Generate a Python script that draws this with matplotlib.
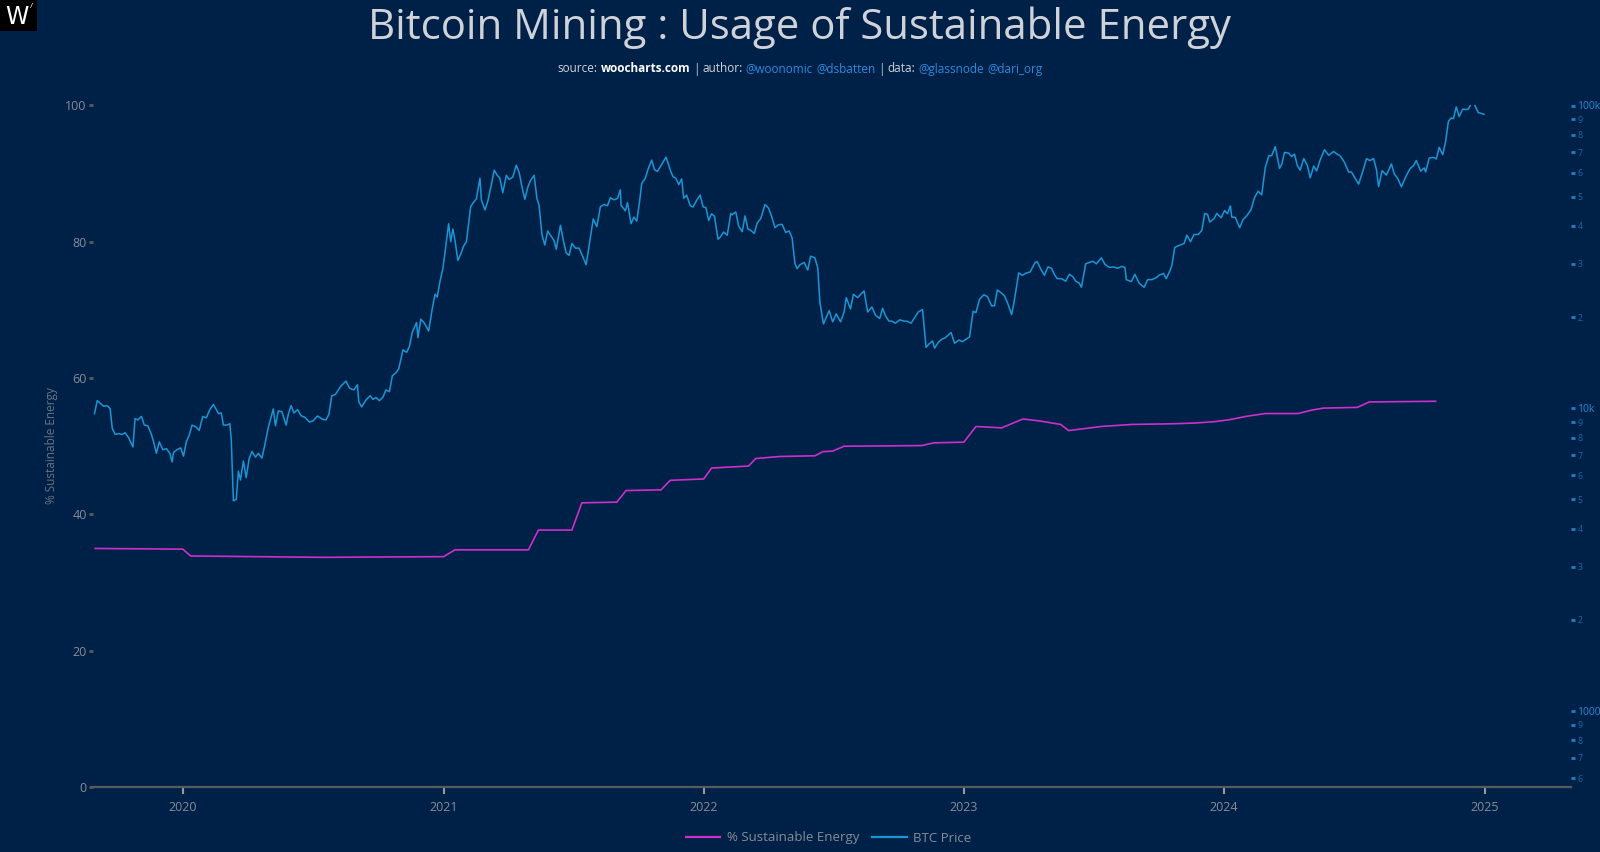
import matplotlib
matplotlib.use('Agg')
import matplotlib.pyplot as plt
import pandas as pd
from matplotlib.lines import Line2D
from matplotlib.patches import Rectangle

plt.rcParams['font.family'] = ['Open Sans', 'DejaVu Sans']

# ---------------- data ----------------
btc_2019 = [
    ('2019-08-30', 9600), ('2019-09-03', 10600), ('2019-09-07', 10400), ('2019-09-12', 10150),
    ('2019-09-17', 10200), ('2019-09-21', 9980), ('2019-09-24', 8600), ('2019-09-28', 8200),
    ('2019-10-03', 8250), ('2019-10-08', 8200), ('2019-10-12', 8300), ('2019-10-17', 8000),
    ('2019-10-23', 7450), ('2019-10-26', 9250), ('2019-10-30', 9150), ('2019-11-04', 9400),
    ('2019-11-08', 8800), ('2019-11-13', 8750), ('2019-11-18', 8200), ('2019-11-22', 7600),
    ('2019-11-25', 7100), ('2019-11-29', 7750), ('2019-12-04', 7300), ('2019-12-09', 7350),
    ('2019-12-14', 7100), ('2019-12-17', 6650), ('2019-12-19', 7150), ('2019-12-24', 7300),
    ('2019-12-29', 7400),
]
btc_2020 = [
    ('2020-01-02', 6950), ('2020-01-06', 7750), ('2020-01-10', 8150), ('2020-01-14', 8800),
    ('2020-01-19', 8700), ('2020-01-24', 8450), ('2020-01-29', 9400), ('2020-02-03', 9300),
    ('2020-02-08', 9900), ('2020-02-13', 10300), ('2020-02-17', 9900), ('2020-02-20', 9600),
    ('2020-02-24', 9650), ('2020-02-27', 8800), ('2020-03-03', 8800), ('2020-03-07', 8900),
    ('2020-03-09', 7900), ('2020-03-12', 4950), ('2020-03-16', 5000), ('2020-03-19', 6200),
    ('2020-03-22', 5800), ('2020-03-26', 6700), ('2020-03-30', 5900), ('2020-04-03', 6800),
    ('2020-04-07', 7200), ('2020-04-12', 6900), ('2020-04-16', 7100), ('2020-04-21', 6850),
    ('2020-04-25', 7550), ('2020-04-30', 8650), ('2020-05-07', 9950), ('2020-05-10', 8750),
    ('2020-05-14', 9800), ('2020-05-19', 9750), ('2020-05-25', 8800), ('2020-05-28', 9550),
    ('2020-06-01', 10200), ('2020-06-05', 9650), ('2020-06-10', 9900), ('2020-06-15', 9450),
    ('2020-06-20', 9350), ('2020-06-27', 9000), ('2020-07-02', 9100), ('2020-07-08', 9430),
    ('2020-07-15', 9200), ('2020-07-20', 9160), ('2020-07-24', 9550), ('2020-07-28', 11000),
    ('2020-08-02', 11100), ('2020-08-10', 11850), ('2020-08-17', 12300), ('2020-08-22', 11650),
    ('2020-08-28', 11500), ('2020-09-02', 11950), ('2020-09-04', 10500), ('2020-09-08', 10100),
    ('2020-09-14', 10650), ('2020-09-20', 11000), ('2020-09-24', 10700), ('2020-09-28', 10850),
    ('2020-10-03', 10600), ('2020-10-08', 10900), ('2020-10-12', 11500), ('2020-10-17', 11350),
    ('2020-10-21', 12800), ('2020-10-26', 13100), ('2020-10-30', 13500), ('2020-11-05', 15600),
    ('2020-11-10', 15300), ('2020-11-14', 16000), ('2020-11-18', 17800), ('2020-11-24', 19200),
    ('2020-11-26', 17100), ('2020-11-30', 19700), ('2020-12-05', 19100), ('2020-12-11', 18000),
    ('2020-12-16', 21300), ('2020-12-20', 23800), ('2020-12-23', 23300), ('2020-12-27', 26300),
    ('2020-12-31', 29000),
]
btc_2021 = [
    ('2021-01-03', 32800), ('2021-01-08', 40700), ('2021-01-11', 35500), ('2021-01-14', 39100),
    ('2021-01-17', 35800), ('2021-01-21', 30800), ('2021-01-25', 32300), ('2021-01-29', 34300),
    ('2021-02-02', 35500), ('2021-02-08', 46400), ('2021-02-12', 47900), ('2021-02-16', 49200),
    ('2021-02-21', 57500), ('2021-02-23', 48800), ('2021-02-28', 45200), ('2021-03-04', 48300),
    ('2021-03-09', 54800), ('2021-03-13', 61200), ('2021-03-17', 58900), ('2021-03-21', 57500),
    ('2021-03-25', 51500), ('2021-03-30', 58800), ('2021-04-03', 57000), ('2021-04-08', 58000),
    ('2021-04-13', 63500), ('2021-04-17', 60100), ('2021-04-21', 53800), ('2021-04-25', 49000),
    ('2021-04-29', 53600), ('2021-05-03', 56600), ('2021-05-08', 58800), ('2021-05-12', 49300),
    ('2021-05-15', 46700), ('2021-05-19', 37400), ('2021-05-23', 34600), ('2021-05-27', 38500),
    ('2021-05-31', 37300), ('2021-06-05', 35800), ('2021-06-08', 33500), ('2021-06-14', 40200),
    ('2021-06-18', 35800), ('2021-06-22', 32600), ('2021-06-26', 32000), ('2021-06-30', 35000),
    ('2021-07-05', 33800), ('2021-07-10', 33800), ('2021-07-15', 31800), ('2021-07-20', 29800),
    ('2021-07-25', 35400), ('2021-07-30', 42200), ('2021-08-04', 39800), ('2021-08-09', 46300),
    ('2021-08-14', 47100), ('2021-08-19', 46700), ('2021-08-23', 49600), ('2021-08-28', 48800),
    ('2021-09-02', 49300), ('2021-09-06', 52700), ('2021-09-07', 46800), ('2021-09-13', 44900),
    ('2021-09-16', 47800), ('2021-09-21', 40700), ('2021-09-25', 42800), ('2021-09-29', 41500),
    ('2021-10-03', 48200), ('2021-10-06', 55300), ('2021-10-11', 57500), ('2021-10-15', 61700),
    ('2021-10-20', 66000), ('2021-10-24', 61300), ('2021-10-28', 60600), ('2021-11-02', 63300),
    ('2021-11-09', 67500), ('2021-11-12', 64500), ('2021-11-16', 60300), ('2021-11-19', 58200),
    ('2021-11-23', 57500), ('2021-11-27', 54800), ('2021-12-01', 57200), ('2021-12-04', 49400),
    ('2021-12-08', 50600), ('2021-12-13', 46700), ('2021-12-17', 46200), ('2021-12-22', 48600),
    ('2021-12-27', 50600), ('2021-12-31', 46300),
]
btc_2022 = [
    ('2022-01-04', 46000), ('2022-01-08', 41700), ('2022-01-12', 43900), ('2022-01-16', 43100),
    ('2022-01-21', 36200), ('2022-01-24', 36700), ('2022-01-29', 38200), ('2022-02-03', 37300),
    ('2022-02-08', 44000), ('2022-02-10', 43600), ('2022-02-15', 44500), ('2022-02-19', 40000),
    ('2022-02-24', 38300), ('2022-02-28', 43200), ('2022-03-04', 39100), ('2022-03-08', 38700),
    ('2022-03-13', 37800), ('2022-03-17', 40900), ('2022-03-22', 42300), ('2022-03-28', 47100),
    ('2022-04-02', 45800), ('2022-04-06', 43200), ('2022-04-11', 39500), ('2022-04-16', 40400),
    ('2022-04-21', 40500), ('2022-04-26', 38100), ('2022-05-01', 38500), ('2022-05-05', 36500),
    ('2022-05-09', 30100), ('2022-05-12', 28900), ('2022-05-16', 29800), ('2022-05-22', 30300),
    ('2022-05-27', 28600), ('2022-05-31', 31800), ('2022-06-06', 31400), ('2022-06-10', 29100),
    ('2022-06-13', 22400), ('2022-06-18', 19000), ('2022-06-22', 20000), ('2022-06-26', 21000),
    ('2022-07-01', 19300), ('2022-07-06', 20500), ('2022-07-12', 19300), ('2022-07-17', 20800),
    ('2022-07-20', 23200), ('2022-07-26', 21300), ('2022-07-30', 23800), ('2022-08-05', 23200),
    ('2022-08-10', 23900), ('2022-08-14', 24400), ('2022-08-19', 20800), ('2022-08-25', 21600),
    ('2022-08-30', 20300), ('2022-09-05', 19800), ('2022-09-09', 21400), ('2022-09-13', 20200),
    ('2022-09-18', 19400), ('2022-09-22', 19400), ('2022-09-27', 19100), ('2022-10-03', 19600),
    ('2022-10-09', 19400), ('2022-10-13', 19400), ('2022-10-19', 19100), ('2022-10-25', 20100),
    ('2022-10-29', 20800), ('2022-11-04', 21200), ('2022-11-09', 15900), ('2022-11-13', 16300),
    ('2022-11-18', 16700), ('2022-11-21', 15800), ('2022-11-26', 16500), ('2022-12-01', 16900),
    ('2022-12-06', 17100), ('2022-12-14', 17800), ('2022-12-19', 16400), ('2022-12-25', 16800),
    ('2022-12-30', 16600),
]
btc_2023 = [
    ('2023-01-04', 16900), ('2023-01-09', 17200), ('2023-01-14', 20900), ('2023-01-18', 20700),
    ('2023-01-23', 22900), ('2023-01-29', 23700), ('2023-02-03', 23400), ('2023-02-09', 21800),
    ('2023-02-13', 21800), ('2023-02-17', 24600), ('2023-02-22', 24100), ('2023-02-27', 23500),
    ('2023-03-03', 22400), ('2023-03-09', 20400), ('2023-03-12', 22100), ('2023-03-15', 24400),
    ('2023-03-19', 28000), ('2023-03-24', 27500), ('2023-03-30', 28000), ('2023-04-04', 28200),
    ('2023-04-11', 30300), ('2023-04-14', 30500), ('2023-04-19', 28800), ('2023-04-24', 27500),
    ('2023-04-29', 29300), ('2023-05-04', 29000), ('2023-05-08', 27700), ('2023-05-12', 26800),
    ('2023-05-18', 26800), ('2023-05-24', 26300), ('2023-05-29', 27700), ('2023-06-03', 27200),
    ('2023-06-07', 26300), ('2023-06-12', 25900), ('2023-06-15', 25100), ('2023-06-21', 30000),
    ('2023-06-26', 30300), ('2023-07-01', 30600), ('2023-07-06', 30000), ('2023-07-13', 31400),
    ('2023-07-18', 29900), ('2023-07-24', 29200), ('2023-07-30', 29300), ('2023-08-05', 29000),
    ('2023-08-10', 29400), ('2023-08-15', 29200), ('2023-08-17', 26600), ('2023-08-24', 26200),
    ('2023-08-29', 27700), ('2023-09-04', 25900), ('2023-09-11', 25100), ('2023-09-16', 26600),
    ('2023-09-22', 26600), ('2023-09-28', 27000), ('2023-10-02', 27500), ('2023-10-08', 27900),
    ('2023-10-12', 26800), ('2023-10-17', 28400), ('2023-10-20', 29700), ('2023-10-24', 34000),
    ('2023-10-30', 34500), ('2023-11-06', 35000), ('2023-11-10', 37300), ('2023-11-15', 35500),
    ('2023-11-20', 37500), ('2023-11-26', 37500), ('2023-12-01', 38700), ('2023-12-05', 44000),
    ('2023-12-09', 43700), ('2023-12-12', 41200), ('2023-12-18', 42300), ('2023-12-22', 44000),
    ('2023-12-28', 42600),
]
btc_2024 = [
    ('2024-01-02', 45000), ('2024-01-06', 43900), ('2024-01-10', 46600), ('2024-01-12', 42800),
    ('2024-01-17', 42700), ('2024-01-23', 39500), ('2024-01-28', 42100), ('2024-02-02', 43200),
    ('2024-02-08', 45300), ('2024-02-13', 49700), ('2024-02-18', 52100), ('2024-02-23', 50700),
    ('2024-02-28', 62400), ('2024-03-04', 68300), ('2024-03-08', 68300), ('2024-03-13', 73100),
    ('2024-03-19', 62000), ('2024-03-22', 63800), ('2024-03-26', 70000), ('2024-04-01', 69600),
    ('2024-04-05', 67800), ('2024-04-09', 69100), ('2024-04-13', 63300), ('2024-04-17', 61200),
    ('2024-04-22', 66800), ('2024-04-27', 63400), ('2024-05-01', 57700), ('2024-05-06', 63100),
    ('2024-05-10', 60800), ('2024-05-15', 66100), ('2024-05-21', 71400), ('2024-05-27', 68500),
    ('2024-06-03', 70500), ('2024-06-07', 69300), ('2024-06-12', 68200), ('2024-06-18', 65000),
    ('2024-06-24', 60300), ('2024-06-28', 60300), ('2024-07-04', 57000), ('2024-07-08', 55000),
    ('2024-07-14', 60800), ('2024-07-19', 66700), ('2024-07-24', 65800), ('2024-07-29', 66800),
    ('2024-08-02', 61400), ('2024-08-05', 54000), ('2024-08-10', 60900), ('2024-08-16', 58900),
    ('2024-08-23', 64100), ('2024-08-27', 59500), ('2024-09-01', 57300), ('2024-09-06', 53900),
    ('2024-09-12', 58100), ('2024-09-18', 61800), ('2024-09-23', 63300), ('2024-09-27', 65800),
    ('2024-10-03', 60700), ('2024-10-08', 62200), ('2024-10-10', 60300), ('2024-10-15', 67000),
    ('2024-10-21', 67400), ('2024-10-25', 66600), ('2024-10-29', 72700), ('2024-11-03', 68800),
    ('2024-11-07', 75900), ('2024-11-11', 88700), ('2024-11-15', 91000), ('2024-11-18', 90500),
    ('2024-11-22', 98900), ('2024-11-26', 91900), ('2024-12-01', 97200), ('2024-12-05', 97000),
    ('2024-12-09', 97300), ('2024-12-13', 101400), ('2024-12-17', 101500), ('2024-12-20', 97800),
    ('2024-12-23', 94700), ('2024-12-27', 94200), ('2024-12-31', 93500),
]
btc_rows = btc_2019 + btc_2020 + btc_2021 + btc_2022 + btc_2023 + btc_2024
btc_dates = [d for d, _ in btc_rows]
btc_price = [p for _, p in btc_rows]

sust_dates = [
    '2019-08-31', '2020-01-01', '2020-01-12', '2020-07-15', '2021-01-01', '2021-01-17', '2021-04-30',
    '2021-05-14', '2021-06-30', '2021-07-14', '2021-09-01', '2021-09-14', '2021-11-02', '2021-11-15',
    '2022-01-01', '2022-01-12', '2022-03-05', '2022-03-15', '2022-04-18', '2022-06-06', '2022-06-17',
    '2022-07-01', '2022-07-17', '2022-11-03', '2022-11-20', '2023-01-01', '2023-01-18', '2023-02-23',
    '2023-03-25', '2023-04-18', '2023-05-17', '2023-05-28', '2023-07-13', '2023-08-25', '2023-10-22',
    '2023-11-20', '2023-12-18', '2024-01-09', '2024-02-02', '2024-02-28', '2024-04-14', '2024-05-03',
    '2024-05-20', '2024-07-06', '2024-07-23', '2024-10-24',
]
sust_pct = [
    35.0, 34.9, 33.9, 33.7, 33.8, 34.8, 34.8,
    37.7, 37.7, 41.7, 41.8, 43.5, 43.6, 45.0,
    45.2, 46.8, 47.1, 48.2, 48.5, 48.6, 49.2,
    49.3, 50.0, 50.1, 50.5, 50.6, 52.9, 52.7,
    54.0, 53.7, 53.2, 52.3, 52.9, 53.2, 53.3,
    53.4, 53.6, 53.9, 54.4, 54.8, 54.8, 55.3,
    55.6, 55.7, 56.5, 56.6,
]

x_tick_labels = ['2020', '2021', '2022', '2023', '2024', '2025']
left_ticks = [0, 20, 40, 60, 80, 100]
right_major = [1000, 10000, 100000]
right_major_labels = ['1000', '10k', '100k']
right_minor = [600, 700, 800, 900,
               2000, 3000, 4000, 5000, 6000, 7000, 8000, 9000,
               20000, 30000, 40000, 50000, 60000, 70000, 80000, 90000]
right_minor_labels = ['6', '7', '8', '9',
                      '2', '3', '4', '5', '6', '7', '8', '9',
                      '2', '3', '4', '5', '6', '7', '8', '9']

title = 'Bitcoin Mining : Usage of Sustainable Energy'
series_names = ['% Sustainable Energy', 'BTC Price']

# ---------------- style ----------------
BG = '#002147'
MAGENTA = '#cc2fcc'
BLUE = '#1a96d4'
GRAY = '#878c96'
AXBLUE = '#1f7fc4'

W, H = 1600, 852
fig = plt.figure(figsize=(16, 8.52), dpi=100, facecolor=BG)
ax = fig.add_axes([93 / W, 1 - 787 / H, (1571 - 93) / W, (787 - 105.5) / H])
ax.set_facecolor(BG)
ax2 = ax.twinx()

sd = pd.to_datetime(sust_dates)
bd = pd.to_datetime(btc_dates)
ax.plot(sd, sust_pct, color=MAGENTA, lw=1.2, zorder=3)
ax2.plot(bd, btc_price, color=BLUE, lw=1.1, zorder=3)

ax.set_xlim(pd.Timestamp('2019-08-28'), pd.Timestamp('2025-05-02'))
ax.set_ylim(0, 100)
ax2.set_yscale('log')
ax2.set_ylim(10 ** 2.7493, 1e5)

for a in (ax, ax2):
    for s in a.spines.values():
        s.set_visible(False)
ax.spines['bottom'].set_visible(True)
ax.spines['bottom'].set_color('#5a5a5a')
ax.spines['bottom'].set_linewidth(1.6)

ax.set_xticks(pd.to_datetime([f'{y}-01-01' for y in x_tick_labels]))
ax.set_xticklabels(x_tick_labels)
ax.tick_params(axis='x', direction='out', length=5, width=1.5, color='#9a9a9a',
               labelcolor=GRAY, labelsize=9, pad=5)
ax.set_yticks(left_ticks)
ax.set_yticklabels([str(v) for v in left_ticks])
ax.tick_params(axis='y', direction='out', length=3, width=2, color='#5a5a5a',
               labelcolor=GRAY, labelsize=9, pad=1.5)

ax2.set_yticks(right_major, labels=right_major_labels)
ax2.set_yticks(right_minor, labels=right_minor_labels, minor=True)
ax2.tick_params(axis='y', which='major', direction='out', length=3, width=2, color=AXBLUE,
                labelcolor='#2a8ad4', labelsize=7.5, pad=1)
ax2.tick_params(axis='y', which='minor', direction='out', length=3, width=2, color=AXBLUE,
                labelcolor='#1668a8', labelsize=6.3, pad=2)

# title
fig.text(0.5, 1 - 28 / H, title, ha='center', va='center', fontsize=30.2, color='#cfd3d9')

# subtitle with colored pieces
pieces = [('source:', '#d0d3d8', 'normal'), ('woocharts.com', '#ffffff', 'bold'),
          ('|', '#d0d3d8', 'normal'), ('author:', '#d0d3d8', 'normal'),
          ('@woonomic', '#2a8be0', 'normal'), ('@dsbatten', '#2a8be0', 'normal'),
          ('|', '#d0d3d8', 'normal'), ('data:', '#d0d3d8', 'normal'),
          ('@glassnode', '#2a8be0', 'normal'), ('@dari_org', '#2a8be0', 'normal')]
renderer = fig.canvas.get_renderer()
fs_sub = 8.5
tmp = fig.text(0, 0, 'a a', fontsize=fs_sub)
w_aa_sp = tmp.get_window_extent(renderer).width
tmp.set_text('aa')
space = w_aa_sp - tmp.get_window_extent(renderer).width
tmp.remove()
texts = []
widths = []
for s, c, wgt in pieces:
    t = fig.text(0, 1 - 69 / H, s, fontsize=fs_sub, color=c, fontweight=wgt, va='center', ha='left')
    texts.append(t)
    widths.append(t.get_window_extent(renderer).width)
total = sum(widths) + space * (len(widths) - 1)
x = 800 - total / 2
for t, w in zip(texts, widths):
    t.set_x(x / W)
    x += w + space

# y label
fig.text(51 / W, 1 - 446 / H, '% Sustainable Energy', rotation=90, ha='center', va='center',
         fontsize=8.5, color='#6b7482')

# legend
handles = [Line2D([], [], color=MAGENTA, lw=1.6), Line2D([], [], color=BLUE, lw=1.6)]
fig.legend(handles, series_names, loc='center', bbox_to_anchor=(0.518, 1 - 838 / H), ncol=2,
           frameon=False, fontsize=9.5, labelcolor=GRAY, handlelength=2.6, handletextpad=0.5,
           columnspacing=1.0)

# logo
fig.patches.append(Rectangle((0, 1 - 31 / H), 37 / W, 31 / H, transform=fig.transFigure,
                             facecolor='black', edgecolor='none'))
fig.text(17 / W, 1 - 17 / H, 'W', ha='center', va='center', fontsize=17, color='white',
         family='DejaVu Sans')
fig.text(31 / W, 1 - 6 / H, '/', ha='center', va='center', fontsize=6, color='white')

fig.savefig('out.png', dpi=100, facecolor=BG)
